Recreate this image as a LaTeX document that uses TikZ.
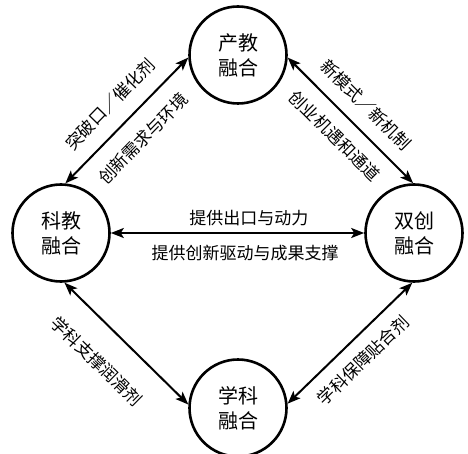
\documentclass[tikz,border=0pt]{standalone}
\usepackage{fontspec}
\setmainfont{Noto Sans CJK SC}
\usetikzlibrary{arrows.meta}
\begin{document}
\begin{tikzpicture}[x=1pt,y=1pt,
  hub/.style={circle,draw,line width=2.6pt,minimum size=97pt,inner sep=0pt,align=center,
    font=\fontsize{20}{25}\selectfont},
  tip/.style={Stealth[length=13pt,width=10pt,inset=3pt]},
  link/.style={line width=2pt,{Stealth[length=13pt,width=10pt,inset=3pt]}-{Stealth[length=13pt,width=10pt,inset=3pt]}},
  lab/.style={font=\fontsize{17}{17}\selectfont,inner sep=0pt,sloped}]
\useasboundingbox (0,0) rectangle (468,453);
\node[hub] (top) at (238,398) {产教\\融合};
\node[hub] (left) at (61,220) {科教\\融合};
\node[hub] (right) at (414,220) {双创\\融合};
\node[hub] (bottom) at (238,45) {学科\\融合};

\draw[link] (left.85) -- (top.183)
  node[lab,pos=0.5,above=14.5pt] (l1) {突破口／催化剂}
  node[lab,pos=0.49,below=15.5pt] (l2) {创新需求与环境};
\draw[link] (top.357) -- (right.91)
  node[lab,pos=0.5,above=13.5pt] (l3) {新模式／新机制}
  node[lab,pos=0.5,below=13.5pt] (l4) {创业机遇和通道};
\draw[link] (left.0) -- (right.180)
  node[lab,pos=0.545,above=6.5pt] (l5) {提供出口与动力}
  node[lab,pos=0.53,below=11.5pt] (l6) {提供创新驱动与成果支撑};
\draw[link] (left.274) -- (bottom.176)
  node[lab,pos=0.45,below=24.5pt] (l7) {学科支撑润滑剂};
\draw[link] (bottom.5) -- (right.268)
  node[lab,pos=0.485,below=12.5pt] (l8) {学科保障贴合剂};
\end{tikzpicture}
\end{document}
